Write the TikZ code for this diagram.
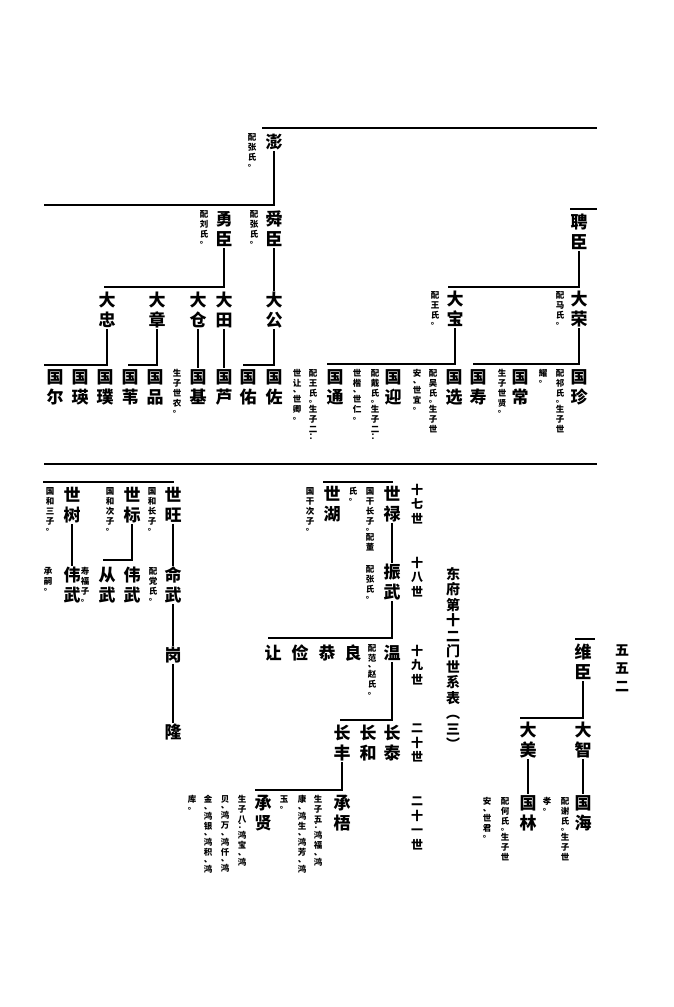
\documentclass[tikz,border=0pt]{standalone}
\usepackage{fontspec}
\newfontfamily\cjk{Noto Sans CJK SC}
\makeatletter
\def\vt#1{\vt@a#1\@nil}
\def\vt@a#1{#1\vt@b}
\def\vt@b#1{\ifx\@nil#1\else\vt@sep{#1}#1\expandafter\vt@b\fi}
\def\vt@sep#1{\ifx#1。\vt@short\else\ifx#1、\vt@short\else\ifx#1：\vt@short\else\vt@nl\fi\fi\fi}
\def\vt@short{\\[-3.5pt]}
\def\vt@nl{\\}
\makeatother
\begin{document}
\begin{tikzpicture}[x=1pt,y=-1pt,
  nm/.style={font=\cjk\bfseries\fontsize{17}{20}\selectfont, align=center, inner sep=1pt},
  nt/.style={font=\cjk\bfseries\fontsize{8.5}{10}\selectfont, align=center, inner sep=0pt, anchor=north},
  gn/.style={font=\cjk\bfseries\fontsize{12}{14.5}\selectfont, align=center, inner sep=0pt, anchor=north},
  ttl/.style={font=\cjk\bfseries\fontsize{14}{15.5}\selectfont, align=center, inner sep=0pt, anchor=north},
  pg/.style={font=\cjk\bfseries\fontsize{14}{18}\selectfont, align=center, inner sep=0pt, anchor=north},
  ln/.style={line width=1.1pt},
  sep/.style={line width=2pt}]
\useasboundingbox[fill=white] (0,0) rectangle (674,1007);

% ---------------- upper section ----------------
\coordinate (t1) at (262,128); \coordinate (t2) at (597,128);
\draw[ln] (t1) -- (t2);
\node[nm] (peng) at (274,142) {\vt{澎}};
\node[nt] at (252,133) {\vt{配张氏。}};
\coordinate (b1) at (44,205);
\draw[ln] (peng.south) |- (b1);

\node[nm] (shunchen) at (274,229) {\vt{舜臣}};
\node[nt] at (254,210) {\vt{配张氏。}};
\node[nm] (yongchen) at (224,229) {\vt{勇臣}};
\node[nt] at (204,210) {\vt{配刘氏。}};
\coordinate (b2) at (104,287);
\draw[ln] (yongchen.south) |- (b2);

\node[nm] (dazhong) at (107,310) {\vt{大忠}};
\node[nm] (dazhang) at (157,310) {\vt{大章}};
\node[nm] (dacang) at (198,310) {\vt{大仓}};
\node[nm] (datian) at (224,310) {\vt{大田}};
\node[nm] (dagong) at (274,310) {\vt{大公}};
\draw[ln] (shunchen) -- (dagong);

\node[nm] (guoer) at (55,387) {\vt{国尔}};
\node[nm] (guoying) at (80,387) {\vt{国瑛}};
\node[nm] (guopu) at (105,387) {\vt{国璞}};
\node[nm] (guowei) at (130,387) {\vt{国苇}};
\node[nm] (guopin) at (155,387) {\vt{国品}};
\node[nm] (guoji) at (198,387) {\vt{国基}};
\node[nm] (guolu) at (224,387) {\vt{国芦}};
\node[nm] (guoyou) at (248,387) {\vt{国佑}};
\node[nm] (guozuo) at (274,387) {\vt{国佐}};
\node[nm] (guotong) at (335,387) {\vt{国通}};
\node[nm] (guoyingb) at (393,387) {\vt{国迎}};
\node[nm] (guoxuan) at (454,387) {\vt{国选}};
\node[nm] (guoshou) at (478,387) {\vt{国寿}};
\node[nm] (guochang) at (520,387) {\vt{国常}};
\node[nm] (guozhen) at (579,387) {\vt{国珍}};

\coordinate (b3) at (44,365);
\draw[ln] (dazhong.south) |- (b3);
\coordinate (b4) at (128,365);
\draw[ln] (dazhang.south) |- (b4);
\draw[ln] (dacang) -- (guoji);
\draw[ln] (datian) -- (guolu);
\coordinate (b5) at (243,365);
\draw[ln] (dagong.south) |- (b5);

\node[nt] at (177,369) {\vt{生子世农。}};
\node[nt] at (313,369) {\vt{配王氏。生子二：}};
\node[nt] at (297,369) {\vt{世让、世卿。}};
\node[nt] at (375,369) {\vt{配戴氏。生子二：}};
\node[nt] at (357,369) {\vt{世楷、世仁。}};
\node[nt] at (433,369) {\vt{配吴氏。生子世}};
\node[nt] at (417,369) {\vt{安、世宜。}};
\node[nt] at (502,369) {\vt{生子世贤。}};
\node[nt] at (560,369) {\vt{配祁氏。生子世}};
\node[nt] at (543,369) {\vt{耀。}};

\coordinate (t3) at (570,209); \coordinate (t4) at (597,209);
\draw[ln] (t3) -- (t4);
\node[nm] (pinchen) at (579,232) {\vt{聘臣}};
\coordinate (b6) at (448,287);
\draw[ln] (pinchen.south) |- (b6);
\node[nm] (dabao) at (455,309) {\vt{大宝}};
\node[nt] at (435,291) {\vt{配王氏。}};
\node[nm] (darong) at (579,309) {\vt{大荣}};
\node[nt] at (560,291) {\vt{配马氏。}};
\coordinate (b7) at (327,364);
\draw[ln] (dabao.south) |- (b7);
\coordinate (b8) at (473,364);
\draw[ln] (darong.south) |- (b8);

% separator
\coordinate (s1) at (44,464); \coordinate (s2) at (597,464);
\draw[sep] (s1) -- (s2);

% ---------------- lower section ----------------
\coordinate (c1) at (43,482); \coordinate (c2) at (174,482);
\draw[ln] (c1) -- (c2);
\node[nm] (shiwang) at (173,505) {\vt{世旺}};
\node[nt] at (152,487) {\vt{国和长子。}};
\node[nm] (shibiao) at (132,505) {\vt{世标}};
\node[nt] at (110,487) {\vt{国和次子。}};
\node[nm] (shishu) at (72,505) {\vt{世树}};
\node[nt] at (50,487) {\vt{国和三子。}};

\node[nm] (mingwu) at (173,585) {\vt{命武}};
\draw[ln] (shiwang) -- (mingwu);
\node[nt] at (153,567) {\vt{配党氏。}};
\coordinate (b10) at (103,560);
\draw[ln] (shibiao.south) |- (b10);
\node[nm] (weiwua) at (132,585) {\vt{伟武}};
\node[nm] (congwu) at (107,585) {\vt{从武}};
\node[nt] at (85,567) {\vt{寿福子。}};
\node[nm] (weiwub) at (72,585) {\vt{伟武}};
\draw[ln] (shishu) -- (weiwub);
\node[nt] at (48,567) {\vt{承嗣。}};
\node[nm] (gang) at (173,655) {\vt{岗}};
\node[nm] (long) at (173,732) {\vt{隆}};
\draw[ln] (mingwu) -- (gang);
\draw[ln] (gang) -- (long);

\coordinate (c3) at (323,482); \coordinate (c4) at (393,482);
\draw[ln] (c3) -- (c4);
\node[nm] (shilu) at (392,504) {\vt{世禄}};
\node[nt] at (370,487) {\vt{国干长子。配董}};
\node[nt] at (353,487) {\vt{氏。}};
\node[nm] (shihu) at (332,504) {\vt{世湖}};
\node[nt] at (310,487) {\vt{国干次子。}};
\node[nm] (zhenwu) at (392,582) {\vt{振武}};
\draw[ln] (shilu) -- (zhenwu);
\node[nt] at (370,565) {\vt{配张氏。}};

\node[gn] at (417,484) {\vt{十七世}};
\node[gn] at (417,557) {\vt{十八世}};
\node[gn] at (417,645) {\vt{十九世}};
\node[gn] at (417,724) {\vt{二十世}};
\node[gn] at (417,797) {\vt{二十一世}};

\coordinate (b11) at (268,638);
\draw[ln] (zhenwu.south) |- (b11);
\node[nm] (wen) at (392,653) {\vt{温}};
\node[nt] at (372,644) {\vt{配范、赵氏。}};
\node[nm] (liang) at (353,653) {\vt{良}};
\node[nm] (gong) at (327,653) {\vt{恭}};
\node[nm] (jian) at (300,653) {\vt{俭}};
\node[nm] (rang) at (273,653) {\vt{让}};

\coordinate (b12) at (340,720);
\draw[ln] (wen.south) |- (b12);
\node[nm] (changtai) at (392,743) {\vt{长泰}};
\node[nm] (changhe) at (368,743) {\vt{长和}};
\node[nm] (changfeng) at (342,743) {\vt{长丰}};

\coordinate (b13) at (255,790);
\draw[ln] (changfeng.south) |- (b13);
\node[nm] (chengwu) at (342,813) {\vt{承梧}};
\node[nm] (chengxian) at (263,813) {\vt{承贤}};
\node[nt] at (318,795) {\vt{生子五：鸿福、鸿}};
\node[nt] at (302,795) {\vt{康、鸿生、鸿芳、鸿}};
\node[nt] at (284,795) {\vt{玉。}};
\node[nt] at (242,795) {\vt{生子八：鸿宝、鸿}};
\node[nt] at (225,795) {\vt{贝、鸿万、鸿仟、鸿}};
\node[nt] at (208,795) {\vt{金、鸿银、鸿积、鸿}};
\node[nt] at (192,795) {\vt{库。}};

\node[ttl] at (453,567) {\vt{东府第十二门世系表︵三︶}};
\node[pg] at (622,645) {\vt{五五二}};

\coordinate (t5) at (575,639); \coordinate (t6) at (595,639);
\draw[ln] (t5) -- (t6);
\node[nm] (weichen) at (583,662) {\vt{维臣}};
\coordinate (b14) at (520,718);
\draw[ln] (weichen.south) |- (b14);
\node[nm] (dazhi) at (583,740) {\vt{大智}};
\node[nm] (damei) at (528,740) {\vt{大美}};
\node[nm] (guohai) at (583,813) {\vt{国海}};
\node[nm] (guolin) at (528,813) {\vt{国林}};
\draw[ln] (dazhi) -- (guohai);
\draw[ln] (damei) -- (guolin);
\node[nt] at (565,797) {\vt{配谢氏。生子世}};
\node[nt] at (547,797) {\vt{孝。}};
\node[nt] at (505,797) {\vt{配何氏。生子世}};
\node[nt] at (487,797) {\vt{安、世君。}};
\end{tikzpicture}
\end{document}
